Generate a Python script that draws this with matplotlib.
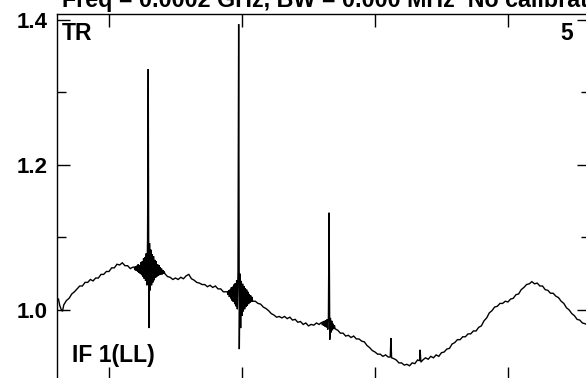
import matplotlib
matplotlib.use("Agg")
import matplotlib.pyplot as plt
from matplotlib.ticker import FixedLocator
import numpy as np

plt.rcParams['font.family'] = ['Liberation Sans', 'DejaVu Sans']

title_text = "Freq = 0.0002 GHz, BW = 0.000 MHz  No calibration"
corner_left = "TR"
corner_right = "5"
panel_label = "IF 1(LL)"

# smooth bandpass (channel, amplitude)
base_ch = [62, 63, 64, 65, 66, 68, 70, 72, 74, 76, 78, 80, 82, 84, 86, 88, 90, 92, 94, 96,
           98, 100, 102, 104, 106, 108, 110, 112, 114, 116, 118,
           144, 146, 148, 150, 152, 154, 156, 158, 160, 162, 164, 166, 168, 170, 172, 174,
           176, 178, 180, 182, 184, 186, 188,
           210, 212, 214, 216, 218, 220, 222, 224, 226, 228, 230, 232, 234, 236, 238, 240,
           242, 244, 246, 248, 250, 252, 254, 256, 258,
           272, 274, 276, 278, 280, 282, 284, 286, 288, 290, 292, 294, 296, 298, 300, 302,
           304, 306, 308, 310, 314, 316, 318, 320, 322, 324, 326, 328, 330, 332,
           336, 338, 340, 342, 344, 346, 348, 350, 352, 354, 356, 358, 360, 362, 364, 366,
           368, 370, 372, 374, 376, 378, 380, 382, 384, 386, 388, 390, 392, 394, 396, 398,
           400, 402, 404, 406, 408, 410, 412, 414, 416, 418, 420, 422, 424, 426, 428, 430,
           432, 434, 436, 438, 440, 442, 444, 446, 448, 450, 452, 454, 456, 458, 460, 462]
base_val = [1.015, 1.006, 1.001, 0.998, 1.007, 1.013, 1.016, 1.022, 1.025, 1.029, 1.033, 1.033,
            1.038, 1.038, 1.042, 1.040, 1.044, 1.044, 1.049, 1.049, 1.053, 1.053, 1.058, 1.058,
            1.063, 1.062, 1.065, 1.061, 1.061, 1.057, 1.059,
            1.046, 1.045, 1.042, 1.044, 1.042, 1.045, 1.043, 1.047, 1.049, 1.043, 1.041, 1.038,
            1.037, 1.035, 1.035, 1.032, 1.034, 1.031, 1.033, 1.029, 1.029, 1.025, 1.025,
            1.012, 1.009, 1.008, 1.004, 1.002, 0.999, 0.995, 0.993, 0.990, 0.991, 0.989, 0.991,
            0.988, 0.990, 0.986, 0.987, 0.983, 0.984, 0.980, 0.982, 0.978, 0.980, 0.979, 0.982,
            0.980,
            0.972, 0.968, 0.968, 0.964, 0.965, 0.962, 0.964, 0.960, 0.960, 0.957, 0.956, 0.951,
            0.948, 0.944, 0.942, 0.939, 0.939, 0.936, 0.938, 0.935, 0.933, 0.931, 0.927, 0.927,
            0.924, 0.925, 0.923, 0.927, 0.926, 0.931,
            0.931, 0.934, 0.932, 0.936, 0.934, 0.938, 0.936, 0.941, 0.942, 0.946, 0.947, 0.953,
            0.955, 0.959, 0.959, 0.963, 0.963, 0.967, 0.967, 0.971, 0.971, 0.976, 0.978, 0.985,
            0.989, 0.996, 0.999, 1.004, 1.005, 1.009, 1.009, 1.012, 1.011, 1.015, 1.016, 1.021,
            1.022, 1.028, 1.031, 1.035, 1.036, 1.039, 1.036, 1.037, 1.033, 1.033, 1.028, 1.027,
            1.023, 1.023, 1.019, 1.017, 1.012, 1.009, 1.003, 1.000, 0.995, 0.992, 0.987, 0.986,
            0.982, 0.981, 0.979, 0.977]

# interference line 1 with ringing
rfi1_ch = [119, 119.5, 120, 120.5, 121, 121.5, 122, 122.5, 123, 123.5, 124, 124.5, 125, 125.5,
           126, 126.5, 127, 127.5, 128, 128.5, 129, 129.5, 130, 130.5, 131, 131.5, 132, 132.5,
           133, 133.5, 134, 134.5, 135, 135.5, 136, 136.5, 137, 137.5, 138, 138.5, 139, 139.5,
           140, 140.5, 141, 141.5, 142]
rfi1_val = [1.059, 1.055, 1.060, 1.054, 1.061, 1.053, 1.063, 1.051, 1.062, 1.050, 1.066, 1.048,
            1.067, 1.046, 1.071, 1.043, 1.073, 1.040, 1.078, 1.034, 1.097, 1.332, 0.975, 1.092,
            1.027, 1.083, 1.034, 1.077, 1.038, 1.074, 1.041, 1.069, 1.044, 1.067, 1.046, 1.063,
            1.047, 1.062, 1.048, 1.059, 1.049, 1.057, 1.049, 1.055, 1.050, 1.053, 1.050]

# interference line 2 with ringing
rfi2_ch = [189, 189.5, 190, 190.5, 191, 191.5, 192, 192.5, 193, 193.5, 194, 194.5, 195, 195.5,
           196, 196.5, 197, 197.5, 198, 198.5, 199, 199.5, 200, 200.5, 201, 201.5, 202, 202.5,
           203, 203.5, 204, 204.5, 205, 205.5, 206, 206.5, 207, 207.5, 208]
rfi2_val = [1.025, 1.021, 1.027, 1.018, 1.028, 1.016, 1.031, 1.013, 1.032, 1.011, 1.035, 1.008,
            1.037, 1.005, 1.041, 1.001, 1.052, 1.394, 0.946, 1.050, 0.975, 1.040, 0.992, 1.036,
            0.998, 1.033, 1.001, 1.030, 1.004, 1.028, 1.006, 1.025, 1.008, 1.022, 1.010, 1.020,
            1.011, 1.018, 1.012]

# interference line 3
rfi3_ch = [260, 260.5, 261, 261.5, 262, 262.5, 263, 263.5, 264, 264.5, 265, 265.5, 266, 266.5,
           267, 267.5, 268, 268.5, 269, 269.5, 270]
rfi3_val = [0.983, 0.979, 0.984, 0.978, 0.985, 0.977, 0.986, 0.976, 0.987, 0.973, 0.990, 1.134,
            0.959, 0.989, 0.969, 0.985, 0.972, 0.981, 0.974, 0.979, 0.974]

# weak lines
rfi4_ch = [311.5, 312, 312.5]
rfi4_val = [0.935, 0.961, 0.934]
rfi5_ch = [333.5, 334, 334.5]
rfi5_val = [0.930, 0.945, 0.928]

x = np.concatenate([base_ch, rfi1_ch, rfi2_ch, rfi3_ch, rfi4_ch, rfi5_ch]).astype(float)
y = np.concatenate([base_val, rfi1_val, rfi2_val, rfi3_val, rfi4_val, rfi5_val]).astype(float)
order = np.argsort(x, kind="stable")
x, y = x[order], y[order]

W, H = 586, 378
fig = plt.figure(figsize=(W / 100, H / 100), dpi=100)
ax = fig.add_axes([57 / W, 1 - 380 / H, (590 - 57) / W, (380 - 14) / H])
ax.plot(x, y, color="black", linewidth=1.0, solid_joinstyle="miter")

ax.set_xlim(60.9, 461.7)
ax.set_ylim(0.9034, 1.408)
ax.xaxis.set_major_locator(FixedLocator([100, 200, 300, 400]))
ax.yaxis.set_major_locator(FixedLocator([1.0, 1.2, 1.4]))
ax.yaxis.set_minor_locator(FixedLocator([0.9, 1.1, 1.3]))
ax.set_yticklabels(["1.0", "1.2", "1.4"])
ax.tick_params(axis="both", which="both", direction="in", top=True, right=True,
               labelbottom=False, width=1.0, color="black")
ax.tick_params(axis="both", which="major", length=9.5)
ax.tick_params(axis="y", which="minor", length=6.5)
ax.tick_params(axis="y", which="major", labelsize=16, pad=7)
for lab in ax.get_yticklabels():
    lab.set_fontweight("bold")
for s in ax.spines.values():
    s.set_linewidth(1.0)

ax.text(62 / W, 1 - 7 / H, title_text, transform=fig.transFigure, fontsize=16.75,
        fontweight="bold", ha="left", va="baseline")
ax.text(62 / W, 1 - 40 / H, corner_left, transform=fig.transFigure, fontsize=16.5,
        fontweight="bold", ha="left", va="baseline")
ax.text(573 / W, 1 - 40 / H, corner_right, transform=fig.transFigure, fontsize=16.5,
        fontweight="bold", ha="right", va="baseline")
ax.text(72 / W, 1 - 362 / H, panel_label, transform=fig.transFigure, fontsize=16.5,
        fontweight="bold", ha="left", va="baseline")

fig.savefig("out.png", dpi=100, facecolor="white")
